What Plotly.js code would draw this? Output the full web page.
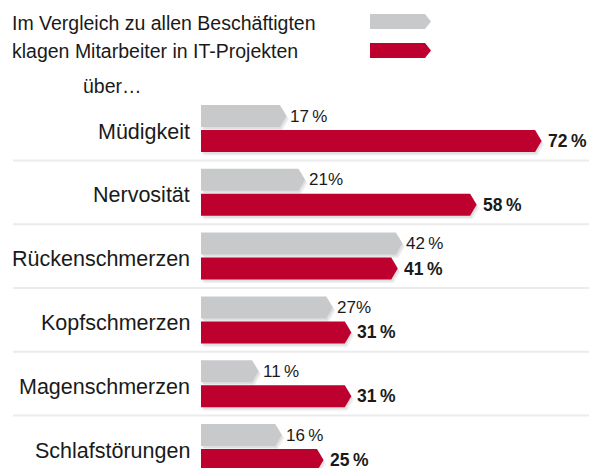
<!DOCTYPE html>
<html>
<head>
<meta charset="utf-8">
<script src="https://cdn.plot.ly/plotly-3.0.1.min.js"></script>
<style>html,body{margin:0;padding:0;background:#fff;}#chart{width:589px;height:468px;}</style>
</head>
<body>
<div id="chart"></div>
<script>
// ---- data ----
const categories = ["Müdigkeit", "Nervosität", "Rückenschmerzen", "Kopfschmerzen", "Magenschmerzen", "Schlafstörungen"];
const allEmployees = [17, 21, 42, 27, 11, 16];
const itProjects = [72, 58, 41, 31, 31, 25];
const allLabels = ["17\u2009%", "21%", "42\u2009%", "27%", "11\u2009%", "16\u2009%"];
const itLabels = ["72\u2009%", "58\u2009%", "41\u2009%", "31\u2009%", "31\u2009%", "25\u2009%"];
const legendLines = ["Im Vergleich zu allen Beschäftigten", "klagen Mitarbeiter in IT-Projekten"];
const subTitle = "über…";

// ---- styling ----
const W = 589, H = 468;
const GRAY = "#c8c9cb", RED = "#bd002e", TEXT = "#1a1a1a";
const FONT = "Liberation Sans, Arial, sans-serif";
const pxPerUnitX = 4.64, x0px = 201;
const pxPerUnitY = 63.8, y0px = 128.5;
const xRange = [-x0px / pxPerUnitX, (W - x0px) / pxPerUnitX];
const yRange = [(H - y0px) / pxPerUnitY, -y0px / pxPerUnitY];
const tip = 6.5 / pxPerUnitX;          // arrow tip length (x units)
const half = 11 / pxPerUnitY;          // half bar thickness (y units)
const off = 12.5 / pxPerUnitY;         // bar centre offset from group centre

function arrow(v, yc, dx, dy) {
  return {
    x: [0 + dx, v + dx, v + tip + dx, v + dx, 0 + dx, 0 + dx],
    y: [yc - half + dy, yc - half + dy, yc + dy, yc + half + dy, yc + half + dy, yc - half + dy]
  };
}

const traces = [];
const shadowLayers = [[1.2, 2, "rgba(0,0,0,0.07)"], [2.5, 3.5, "rgba(0,0,0,0.06)"]];
function addBar(v, yc, color) {
  shadowLayers.forEach(s => {
    const p = arrow(v, yc, s[0] / pxPerUnitX, s[1] / pxPerUnitY);
    traces.push({type: "scatter", mode: "lines", x: p.x, y: p.y, fill: "toself",
      fillcolor: s[2], line: {width: 0}, hoverinfo: "skip", showlegend: false});
  });
  const p = arrow(v, yc, 0, 0);
  traces.push({type: "scatter", mode: "lines", x: p.x, y: p.y, fill: "toself",
    fillcolor: color, line: {width: 0}, hoverinfo: "skip", showlegend: false});
}
categories.forEach((c, i) => {
  addBar(allEmployees[i], i - off, GRAY);
  addBar(itProjects[i], i + off, RED);
});

const annotations = [];
categories.forEach((c, i) => {
  annotations.push({x: 0, y: i, xref: "x", yref: "y", text: c, showarrow: false,
    xanchor: "right", yanchor: "middle", xshift: -9, yshift: -3,
    font: {family: FONT, size: 21.5, color: TEXT}});
  annotations.push({x: allEmployees[i] + tip, y: i - off, xref: "x", yref: "y", text: allLabels[i],
    showarrow: false, xanchor: "left", yanchor: "middle", xshift: 2, yshift: 0,
    font: {family: FONT, size: 17, color: TEXT}});
  annotations.push({x: itProjects[i] + tip, y: i + off, xref: "x", yref: "y", text: "<b>" + itLabels[i] + "</b>",
    showarrow: false, xanchor: "left", yanchor: "middle", xshift: 4, yshift: 0,
    font: {family: FONT, size: 17.5, color: TEXT}});
});
const legendY = [23, 51];
legendLines.forEach((t, k) => {
  annotations.push({x: 10 / W, y: 1 - legendY[k] / H, xref: "paper", yref: "paper", text: t,
    showarrow: false, xanchor: "left", yanchor: "middle",
    font: {family: FONT, size: 19.5, color: TEXT}});
});
annotations.push({x: 81 / W, y: 1 - 86 / H, xref: "paper", yref: "paper", text: subTitle,
  showarrow: false, xanchor: "left", yanchor: "middle",
  font: {family: FONT, size: 19.5, color: TEXT}});

function legendArrow(x1, x2, yt, yb, color) {
  const fx = p => (p / W).toFixed(5), fy = p => (1 - p / H).toFixed(5);
  const ym = (yt + yb) / 2, t = 6;
  return {type: "path", xref: "paper", yref: "paper", fillcolor: color, line: {width: 0},
    path: `M ${fx(x1)} ${fy(yt)} L ${fx(x2 - t)} ${fy(yt)} L ${fx(x2)} ${fy(ym)} L ${fx(x2 - t)} ${fy(yb)} L ${fx(x1)} ${fy(yb)} Z`};
}
const shapes = [legendArrow(370, 431, 14, 29, GRAY), legendArrow(370, 431, 43, 58, RED)];
for (let i = 0; i < categories.length - 1; i++) {
  shapes.push({type: "line", xref: "paper", yref: "y", x0: 13 / W, x1: 1, y0: i + 0.5, y1: i + 0.5,
    line: {color: "#ebebeb", width: 2}, layer: "below"});
}

const layout = {
  width: W, height: H, margin: {l: 0, r: 0, t: 0, b: 0},
  paper_bgcolor: "#fff", plot_bgcolor: "#fff", showlegend: false,
  xaxis: {range: xRange, visible: false, fixedrange: true},
  yaxis: {range: yRange, visible: false, fixedrange: true},
  annotations: annotations, shapes: shapes
};
Plotly.newPlot("chart", traces, layout, {displayModeBar: false, staticPlot: true});
</script>
</body>
</html>
